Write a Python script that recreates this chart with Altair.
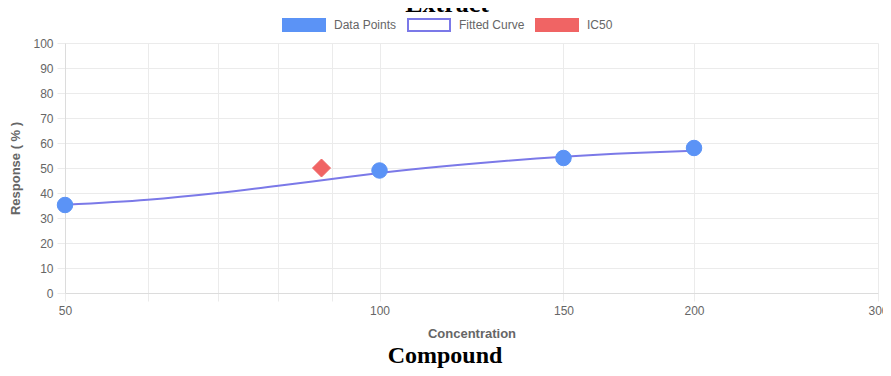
import altair as alt
import pandas as pd

# ---- data ----
conc = [50, 100, 150, 200]
response = [35.2, 49, 54, 58]
curve_conc = [50, 60, 70, 80, 90, 100, 125, 150, 175, 200]
curve_resp = [35.3, 37.3, 40.0, 42.9, 45.6, 48.0, 52.0, 54.5, 56.0, 56.9]
ic50_conc = [88]
ic50_resp = [50]
x_ticks = [50, 60, 70, 80, 90, 100, 150, 200, 300]
x_labels = [50, 100, 150, 200, 300]
y_ticks = list(range(0, 101, 10))
series = ["Data Points", "Fitted Curve", "IC50"]
stroke_colors = ["#5b93f6", "#7b79e8", "#f06464"]
fill_colors = ["#5b93f6", "#ffffff", "#f06464"]
top_title = "Extract"
bottom_title = "Compound"

pts = pd.DataFrame({"Concentration": conc, "Response": response, "series": series[0]})
crv = pd.DataFrame({"Concentration": curve_conc, "Response": curve_resp, "series": series[1]})
ic = pd.DataFrame({"Concentration": ic50_conc, "Response": ic50_resp, "series": series[2]})

FONT = "Liberation Sans"
GRID = "#ebebeb"

label_list = ",".join(str(v) for v in x_labels)
x_enc = alt.X(
    "Concentration:Q",
    scale=alt.Scale(type="log", domain=[50, 300], nice=False),
    axis=alt.Axis(
        values=x_ticks,
        labelExpr=f"indexof([{label_list}], datum.value) >= 0 ? toString(datum.value) : ''",
        title="Concentration",
        labelFlush=False,
        labelOverlap=False,
    ),
)
y_enc = alt.Y(
    "Response:Q",
    scale=alt.Scale(domain=[0, 100], nice=False),
    axis=alt.Axis(values=y_ticks, title="Response ( % )"),
)

legend = alt.Legend(
    title=None,
    orient="none",
    legendX=217,
    legendY=-40,
    direction="horizontal",
    symbolType="M-1,-0.2857H1V0.2857H-1Z",
    symbolSize=1764,
    symbolStrokeWidth=2,
    labelFont=FONT,
    labelFontSize=12,
    labelColor="#666666",
    labelOffset=8,
    columnPadding=7,
    padding=0,
    symbolOpacity=1,
)
fill_enc = alt.Fill(
    "series:N", scale=alt.Scale(domain=series, range=fill_colors), legend=legend
)
stroke_enc = alt.Stroke(
    "series:N", scale=alt.Scale(domain=series, range=stroke_colors), legend=legend
)

line = alt.Chart(crv).mark_line(interpolate="monotone", strokeWidth=2).encode(
    x=x_enc, y=y_enc, stroke=stroke_enc
)
points = alt.Chart(pts).mark_circle(size=240, opacity=1, strokeWidth=1).encode(
    x=x_enc, y=y_enc, fill=fill_enc, stroke=stroke_enc
)
diamond = alt.Chart(ic).mark_point(shape="diamond", filled=True, size=324, opacity=1, strokeWidth=1).encode(
    x=x_enc, y=y_enc, fill=fill_enc, stroke=stroke_enc
)

t_top = alt.Chart(pd.DataFrame({"t": [top_title]})).mark_text(
    font="Liberation Serif", fontSize=26, fontWeight="bold", color="black",
    align="center", baseline="alphabetic",
).encode(text="t:N", x=alt.value(382), y=alt.value(-31))
t_bot = alt.Chart(pd.DataFrame({"t": [bottom_title]})).mark_text(
    font="Liberation Serif", fontSize=24, fontWeight="bold", color="black",
    align="center", baseline="alphabetic",
).encode(text="t:N", x=alt.value(380), y=alt.value(320))

chart = (
    alt.layer(line, points, diamond, t_top, t_bot)
    .properties(
        width=813,
        height=250,
        autosize=alt.AutoSizeParams(type="none"),
        padding={"left": 57, "top": 35, "right": 5, "bottom": 75},
        background="white",
    )
    .configure_view(stroke=None)
    .configure_axis(
        grid=True,
        gridColor=GRID,
        tickColor=GRID,
        tickSize=8,
        domainColor="#dcdcdc",
        labelFont=FONT,
        labelFontSize=12,
        labelColor="#666666",
        labelPadding=4,
        titleFont=FONT,
        titleFontSize=13,
        titleFontWeight="bold",
        titleColor="#666666",
    )
    .configure_axisX(titlePadding=11)
    .configure_axisY(titlePadding=10)
)

chart.save("out.html", embed_options={"renderer": "svg", "actions": False})
